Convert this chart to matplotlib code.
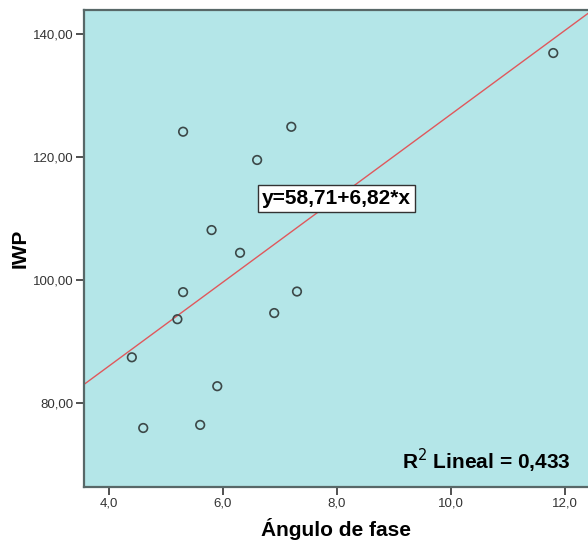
import numpy as np
import matplotlib.pyplot as plt
from matplotlib.ticker import FuncFormatter

plt.rcParams['font.family'] = ['Liberation Sans', 'DejaVu Sans']

# phase angle vs IWP
angulo = [4.4, 4.6, 5.3, 5.2, 5.3, 5.6, 5.8, 5.9, 6.3, 6.6, 6.9, 7.2, 7.3, 11.8]
iwp = [87.4, 75.9, 124.1, 93.6, 98.0, 76.4, 108.1, 82.7, 104.4, 119.5, 94.6, 124.9, 98.1, 136.9]

# fitted line reported on the chart
intercept = 58.71
slope = 6.82
r2 = 0.433

xticks = [4.0, 6.0, 8.0, 10.0, 12.0]
yticks = [80.0, 100.0, 120.0, 140.0]

fig = plt.figure(figsize=(5.88, 5.5), dpi=100)
ax = fig.add_axes([84/588, 1 - 487/550, 1 - 84/588, 477/550])
ax.set_facecolor('#b4e6e8')

xlim = (3.56, 12.41)
ylim = (66.3, 143.9)
xx = np.array(xlim)
ax.plot(xx, intercept + slope*xx, color='#e0585c', lw=1.0, zorder=2)
ax.scatter(angulo, iwp, s=38, facecolors='none', edgecolors='#3c4848', linewidths=1.2, zorder=3)

ax.set_xlim(xlim)
ax.set_ylim(ylim)
ax.set_xticks(xticks)
ax.set_yticks(yticks)
ax.xaxis.set_major_formatter(FuncFormatter(lambda v, p: f'{v:.1f}'.replace('.', ',')))
ax.yaxis.set_major_formatter(FuncFormatter(lambda v, p: f'{v:.2f}'.replace('.', ',')))
ax.tick_params(labelsize=9.5, colors='#333333', length=6, width=1.2, pad=1.5)

for side in ['left', 'bottom', 'top']:
    ax.spines[side].set_color('#586868')
    ax.spines[side].set_linewidth(1.6)
ax.spines['right'].set_visible(False)

ax.set_xlabel('Ángulo de fase', fontsize=15, fontweight='bold')
ax.xaxis.set_label_coords(0.5, -0.064)
ax.set_ylabel('IWP', fontsize=15, fontweight='bold')
ax.yaxis.set_label_coords(-0.108, 0.5)

eq = f'y={intercept:.2f}+{slope:.2f}*x'.replace('.', ',')
ax.text(7.99, 113.2, eq, fontsize=15, fontweight='bold', ha='center', va='center',
        bbox=dict(boxstyle='square,pad=0.2', fc='white', ec='#333333', lw=1), zorder=4)
ax.text(0.966, 0.025, f'R$^2$ Lineal = {r2:.3f}'.replace('.', ','), transform=ax.transAxes,
        fontsize=15, fontweight='bold', ha='right', va='bottom')

fig.savefig('out.png', dpi=100)
